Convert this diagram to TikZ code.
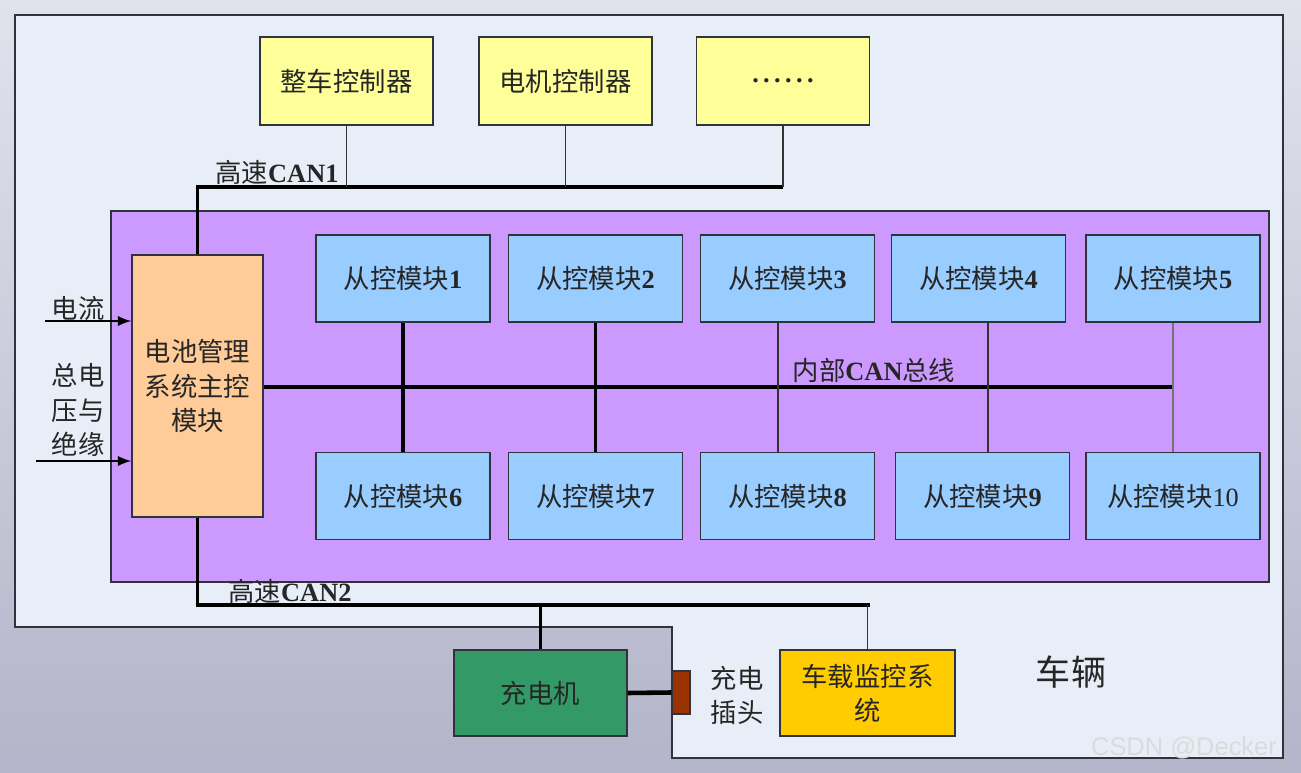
\documentclass[tikz,border=0pt]{standalone}
\usepackage{fontspec}
\setmainfont{Liberation Serif}
\setsansfont{Liberation Sans}
\newfontfamily\cjk{Noto Sans CJK SC}
\usepackage{xcolor}
\usetikzlibrary{arrows, positioning, calc}
\definecolor{bgtop}{RGB}{224, 226, 236}
\definecolor{bgbottom}{RGB}{180, 180, 202}
\definecolor{carfill}{RGB}{232, 238, 248}
\definecolor{packpurple}{RGB}{204, 153, 255}
\definecolor{ctrlyellow}{RGB}{255, 255, 153}
\definecolor{bmsorange}{RGB}{255, 204, 153}
\definecolor{slaveblue}{RGB}{153, 204, 255}
\definecolor{chargergreen}{RGB}{51, 153, 102}
\definecolor{plugbrown}{RGB}{153, 51, 0}
\definecolor{monitorgold}{RGB}{255, 204, 0}
\definecolor{edgegray}{RGB}{50, 50, 60}
\tikzset{
  box/.style={rectangle, draw=edgegray, line width=0.8pt, inner sep=0pt,
    align=center, text=black!85, font=\fontsize{15}{19.4}\selectfont\cjk},
  ctrl/.style={box, fill=ctrlyellow, minimum width=3.46cm, minimum height=1.76cm},
  slave/.style={box, fill=slaveblue, minimum width=3.48cm, minimum height=1.74cm},
  bus/.style={line width=2.2pt, color=black},
  tap/.style={line width=0.9pt, color=black!80},
  inarrow/.style={->, >=stealth, line width=1.6pt, color=black}
}

\begin{document}
\begin{tikzpicture}[
    x=0.02cm, y=-0.02cm,
    master/.style={box, fill=bmsorange, minimum width=2.62cm, minimum height=5.24cm},
    txt/.style={inner sep=0pt, align=center, text=black!85,
                font=\fontsize{15}{19.4}\selectfont\cjk},
]
\useasboundingbox (0,0) rectangle (1301,773);
\shade[top color=bgtop, bottom color=bgbottom] (0,0) rectangle (1301,773);
% vehicle and battery pack
\draw[fill=carfill, draw=edgegray, line width=0.9pt]
  (15,15) -- (1283,15) -- (1283,758) -- (672,758) -- (672,627) -- (15,627) -- cycle;
\draw[fill=packpurple, draw=edgegray, line width=0.9pt] (111,211) rectangle (1269,582);

\node (vcu) [ctrl] at (346.5,81) {整车控制器};
\node (mcu) [ctrl] at (565.5,81) {电机控制器};
\node (etc) [ctrl] at (783,81)   {{\rmfamily\bfseries .\,.\,.\,.\,.\,.}};
\node (bms) [master] at (197.5,386) {电池管理\\系统主控\\模块};

\node (s1)  [slave] at (403,278.5)  {从控模块{\rmfamily\bfseries 1}};
\node (s2)  [slave] at (595.5,278.5) {从控模块{\rmfamily\bfseries 2}};
\node (s3)  [slave] at (787.5,278.5) {从控模块{\rmfamily\bfseries 3}};
\node (s4)  [slave] at (978.5,278.5) {从控模块{\rmfamily\bfseries 4}};
\node (s5)  [slave] at (1173,278.5)  {从控模块{\rmfamily\bfseries 5}};
\node (s6)  [slave] at (403,496)     {从控模块{\rmfamily\bfseries 6}};
\node (s7)  [slave] at (595.5,496)   {从控模块{\rmfamily\bfseries 7}};
\node (s8)  [slave] at (787.5,496)   {从控模块{\rmfamily\bfseries 8}};
\node (s9)  [slave] at (982.5,496)   {从控模块{\rmfamily\bfseries 9}};
\node (s10) [slave] at (1173,496)    {从控模块{\rmfamily 10}};

\node (chg)  [box, fill=chargergreen, minimum width=3.46cm, minimum height=1.72cm]
      at (540.5,693) {充电机};
\node (plug) [box, fill=plugbrown, minimum width=0.36cm, minimum height=0.86cm]
      at (681,692.5) {};
\node (mon)  [box, fill=monitorgold, minimum width=3.5cm, minimum height=1.72cm]
      at (867.5,693) {车载监控系\\统};

\node (can1txt) [txt] at (277,172) {高速{\rmfamily\bfseries CAN1}};
\node (intxt)   [txt] at (874,370) {内部{\rmfamily\bfseries CAN}总线};
\node (can2txt) [txt] at (290,591) {高速{\rmfamily\bfseries CAN2}};
\node (itxt)    [txt] at (78,308)  {电流};
\node (vtxt)    [txt] at (78,410)  {总电\\压与\\绝缘};
\node (plugtxt) [txt] at (737,695) {充电\\插头};
\node (cartxt)  [txt, font=\fontsize{20}{24}\selectfont\cjk] at (1071,672) {车辆};
\node (mark)    [inner sep=0pt, text=white!72!gray, font=\fontsize{14.5}{17}\selectfont\sffamily]
      at (1184,748) {CSDN @Decker};

% high speed CAN1
\coordinate (can1end) at (783,187);
\draw[bus] (bms.north) |- (can1end);
\draw[tap] (vcu.south) -- (vcu.south |- can1end);
\draw[tap] (mcu.south) -- (mcu.south |- can1end);
\draw[tap, line width=1.3pt] (etc.south) -- (can1end);

% internal CAN
\coordinate (inend) at (1173,387);
\draw[bus] (bms.east |- inend) -- (inend);
\draw[bus, line width=1.8pt] (s1.south) -- (s6.north);
\draw[bus, line width=1.8pt] (s2.south) -- (s7.north);
\draw[tap] ([xshift=-0.19cm]s3.south) -- ([xshift=-0.19cm]s8.north);
\draw[tap] ([xshift=0.19cm]s4.south) -- ([xshift=0.11cm]s9.north);
\draw[tap, color=black!55] (s5.south) -- (s10.north);

% high speed CAN2
\coordinate (can2end) at (870,605);
\draw[bus] (bms.south) |- (can2end);
\draw[bus] (chg.north) -- (chg.north |- can2end);
\draw[tap] (mon.north) -- (mon.north |- can2end);
\draw[bus, line width=2.6pt] (chg.east) -- (plug.west);

% inputs
\coordinate (iin) at (45,321);
\coordinate (vin) at (36,461);
\draw[inarrow, >=latex] (iin) -- (iin -| bms.west);
\draw[inarrow, >=latex] (vin) -- (vin -| bms.west);
\end{tikzpicture}
\end{document}
